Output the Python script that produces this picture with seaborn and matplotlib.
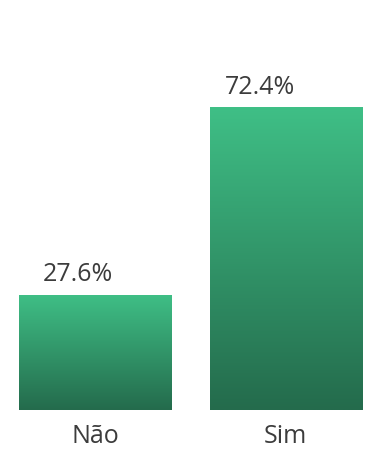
import matplotlib
matplotlib.use("Agg")
import matplotlib.pyplot as plt
import seaborn as sns
import numpy as np
import pandas as pd
from matplotlib.colors import LinearSegmentedColormap

categories = ["Não", "Sim"]
values = [27.6, 72.4]
labels = ["27.6%", "72.4%"]

sns.set_theme(style="white")
plt.rcParams['font.family'] = ['Open Sans', 'DejaVu Sans']

df = pd.DataFrame({"cat": categories, "val": values})

fig = plt.figure(figsize=(3.81, 4.67), dpi=100)
ax = fig.add_axes([0, 57/467, 1, 410/467])
sns.barplot(data=df, x="cat", y="val", ax=ax, width=0.8, color="#3fbf86",
            saturation=1)

cmap = LinearSegmentedColormap.from_list("g", ["#246b4c", "#3fbf86"])
grad = np.linspace(0, 1, 256).reshape(-1, 1)
for p in ax.patches:
    x0, y0 = p.get_x(), p.get_y()
    w, h = p.get_width(), p.get_height()
    im = ax.imshow(grad, cmap=cmap, origin="lower", aspect="auto",
                   extent=[x0, x0 + w, y0, y0 + h], zorder=p.get_zorder() + 0.1)
    im.set_clip_path(p)
    p.set_edgecolor("none")
ax.set_xlim(-0.5, 1.5)
ax.set_ylim(0, 98.1)

dx = [-0.09, -0.137]
for i, (v, t) in enumerate(zip(values, labels)):
    ax.annotate(t, (i + dx[i], v), xytext=(0, 9.5), textcoords="offset points",
                ha="center", va="baseline", fontsize=18, color="#3c3c3c")

ax.set_xlabel("")
ax.set_ylabel("")
ax.set_yticks([])
ax.tick_params(axis="x", length=0, pad=10, labelsize=18, labelcolor="#3c3c3c")
for s in ax.spines.values():
    s.set_visible(False)

fig.savefig("out.png", dpi=100)
